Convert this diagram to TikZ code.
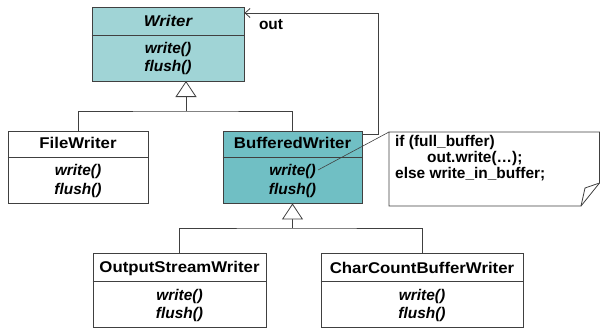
\documentclass[tikz,border=0pt]{standalone}
\usepackage{fontspec}
\setmainfont{Liberation Sans}
\newfontfamily\ttlfont[FakeStretch=1.08]{Liberation Sans}
\usetikzlibrary{arrows.meta}
\definecolor{lteal}{HTML}{A0D4D6}
\definecolor{dteal}{HTML}{70BFC4}
\definecolor{lncol}{HTML}{404040}
\begin{document}
\begin{tikzpicture}[x=1bp,y=-1bp,
  classbox/.style={draw=lncol,line width=0.9bp,rectangle,inner sep=0pt},
  ttl/.style={font=\fontsize{15.6}{18}\ttlfont\bfseries,inner sep=0pt},
  meth/.style={font=\fontsize{15.5}{18}\selectfont\bfseries\itshape,inner sep=0pt},
  notetext/.style={font=\fontsize{15.5}{17}\selectfont\bfseries,inner sep=0pt,anchor=base west},
  conn/.style={draw=lncol,line width=0.8bp},
  gen/.style={conn,-{Triangle[open,length=16bp,width=21bp,fill=white]}},
  assoc/.style={conn,-{Straight Barb[length=5bp,width=9bp]}}]
\useasboundingbox (0,0) rectangle (600,329);
% Writer
\node[classbox,fill=lteal,minimum width=152bp,minimum height=74bp] (writer) at (168,44) {};
\draw[conn] (writer.west |- 0,35) -- (writer.east |- 0,35);
\node[ttl] (writerT) at (168,21) {\itshape Writer};
\node[meth] (writerM1) at (168,49.5) {write()};
\node[meth] (writerM2) at (168,68) {flush()};
% FileWriter
\node[classbox,fill=white,minimum width=140bp,minimum height=72bp] (fw) at (78,167) {};
\draw[conn] (fw.west |- 0,157) -- (fw.east |- 0,157);
\node[ttl] (fwT) at (78,143) {FileWriter};
\node[meth] (fwM1) at (78,172) {write()};
\node[meth] (fwM2) at (78,190.5) {flush()};
% BufferedWriter
\node[classbox,fill=dteal,minimum width=139bp,minimum height=72bp] (bw) at (292.5,167) {};
\draw[conn] (bw.west |- 0,157) -- (bw.east |- 0,157);
\node[ttl] (bwT) at (292.5,143) {BufferedWriter};
\node[meth] (bwM1) at (292.5,172) {write()};
\node[meth] (bwM2) at (292.5,190.5) {flush()};
% OutputStreamWriter
\node[classbox,fill=white,minimum width=173bp,minimum height=74bp] (osw) at (179.5,290) {};
\draw[conn] (osw.west |- 0,281) -- (osw.east |- 0,281);
\node[ttl] (oswT) at (179.5,268) {OutputStreamWriter};
\node[meth] (oswM1) at (179.5,296) {write()};
\node[meth] (oswM2) at (179.5,314.5) {flush()};
% CharCountBufferWriter
\node[classbox,fill=white,minimum width=202bp,minimum height=74bp] (ccw) at (422,290) {};
\draw[conn] (ccw.west |- 0,281) -- (ccw.east |- 0,281);
\node[ttl] (ccwT) at (422,268) {CharCountBufferWriter};
\node[meth] (ccwM1) at (422,296) {write()};
\node[meth] (ccwM2) at (422,314.5) {flush()};
% generalizations
\coordinate (j1) at (186,111);
\coordinate (w1) at (186,81);
\draw[conn] (fw.north) |- (j1) -| (bw.north);
\draw[gen] (j1) -- (w1);
\coordinate (j2) at (292.5,228);
\draw[conn] (osw.north) |- (j2) -| (ccw.north);
\draw[gen] (j2) -- (bw.south);
% out association
\coordinate (o1) at (bw.east |- 0,134);
\coordinate (o2) at (378,134);
\coordinate (o3) at (378,13);
\coordinate (o4) at (writer.east |- 0,13);
\draw[assoc] (o1) -- (o2) -- (o3) -- (o4);
\node[font=\fontsize{15.5}{18}\selectfont\bfseries,inner sep=0pt] (outlbl) at (271,25) {out};
% note
\draw[conn,fill=white] (389,132) -- (599.5,132) -- (599.5,183) -- (581,206) -- (389,206) -- cycle;
\draw[conn] (599.5,183) -- (585,188) -- (581,206);
\coordinate (nc) at (389,132);
\coordinate (wm) at (318,170);
\draw[conn,line width=0.6bp] (nc) -- (wm);
\node[notetext] (n1) at (395,146) {if (full\_buffer)};
\node[notetext] (n2) at (427,162) {out.write(…);};
\node[notetext] (n3) at (395,178) {else write\_in\_buffer;};
\end{tikzpicture}
\end{document}
